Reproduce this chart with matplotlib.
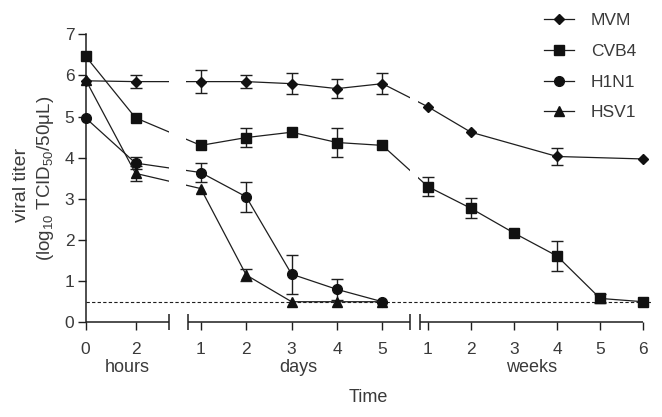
import matplotlib
matplotlib.use("Agg")
import matplotlib.pyplot as plt
import numpy as np

plt.rcParams['font.family'] = ['Liberation Sans', 'DejaVu Sans']
plt.rcParams['mathtext.default'] = 'regular'
TXT = '#3a3a3a'
LC = '#1e1e1e'

# ---------------- data ----------------
series_names = ['MVM', 'CVB4', 'H1N1', 'HSV1']
markers = {'MVM': 'D', 'CVB4': 's', 'H1N1': 'o', 'HSV1': '^'}
msizes = {'MVM': 5.6, 'CVB4': 7.0, 'H1N1': 7.0, 'HSV1': 7.5}

hours_t = [0, 2]
days_t = [1, 2, 3, 4, 5]
weeks_t = [1, 2, 3, 4, 5, 6]

# (unit, time) lists and values/errors per series
MVM_time = [('h', 0), ('h', 2), ('d', 1), ('d', 2), ('d', 3), ('d', 4), ('d', 5),
            ('w', 1), ('w', 2), ('w', 4), ('w', 6)]
MVM_val = [5.87, 5.85, 5.85, 5.85, 5.80, 5.68, 5.80, 5.24, 4.62, 4.03, 3.97]
MVM_err = [0.0, 0.15, 0.28, 0.15, 0.25, 0.23, 0.25, 0.0, 0.0, 0.21, 0.0]

CVB4_time = [('h', 0), ('h', 2), ('d', 1), ('d', 2), ('d', 3), ('d', 4), ('d', 5),
             ('w', 1), ('w', 2), ('w', 3), ('w', 4), ('w', 5), ('w', 6)]
CVB4_val = [6.47, 4.97, 4.30, 4.49, 4.62, 4.37, 4.30, 3.30, 2.77, 2.17, 1.61, 0.58, 0.50]
CVB4_err = [0.0, 0.0, 0.0, 0.24, 0.0, 0.36, 0.0, 0.24, 0.24, 0.0, 0.36, 0.12, 0.0]

H1N1_time = [('h', 0), ('h', 2), ('d', 1), ('d', 2), ('d', 3), ('d', 4), ('d', 5)]
H1N1_val = [4.97, 3.87, 3.64, 3.05, 1.17, 0.80, 0.50]
H1N1_err = [0.0, 0.14, 0.22, 0.36, 0.47, 0.25, 0.0]

HSV1_time = [('h', 0), ('h', 2), ('d', 1), ('d', 2), ('d', 3), ('d', 4), ('d', 5)]
HSV1_val = [5.90, 3.62, 3.25, 1.15, 0.50, 0.50, 0.50]
HSV1_err = [0.0, 0.18, 0.0, 0.15, 0.0, 0.0, 0.0]

detection_limit = 0.5
y_ticks = [0, 1, 2, 3, 4, 5, 6, 7]

# ------------- broken time scale -------------
# segment: (axis position of unit value 0, scale per unit, segment lo, segment hi)
SEG = {'h': (0.0, 25.0, 0.0, 3.32),
       'd': (69.9, 45.4, 0.71, 5.6),
       'w': (299.2, 43.1, 0.81, 6.0)}


def pos(unit, t):
    o, s, _, _ = SEG[unit]
    return o + s * t


data = {
    'MVM': (MVM_time, MVM_val, MVM_err),
    'CVB4': (CVB4_time, CVB4_val, CVB4_err),
    'H1N1': (H1N1_time, H1N1_val, H1N1_err),
    'HSV1': (HSV1_time, HSV1_val, HSV1_err),
}

fig = plt.figure(figsize=(6.62, 4.17), dpi=100)
ax = fig.add_axes([85.5 / 662, 1 - 322.3 / 417, 570 / 662, 288 / 417])
ax.set_xlim(0, 570)
ax.set_ylim(0, 7)

for name in series_names:
    tl, v, e = data[name]
    x = [pos(u, t) for u, t in tl]
    ax.plot(x, v, color=LC, lw=0.9, marker=markers[name], ms=msizes[name],
            mfc='#111111', mec='#111111', label=name, clip_on=False, zorder=4)
    xe = [xi for xi, ei in zip(x, e) if ei > 0]
    ve = [vi for vi, ei in zip(v, e) if ei > 0]
    ee = [ei for ei in e if ei > 0]
    ax.errorbar(xe, ve, yerr=ee, fmt='none', ecolor=LC, elinewidth=1.0,
                capsize=4, capthick=1.0, clip_on=False, zorder=3)

# gaps in the connecting lines at the axis breaks
segs = ['h', 'd', 'w']
for a, b in zip(segs[:-1], segs[1:]):
    x0 = pos(a, SEG[a][3]) + 0.5
    x1 = pos(b, SEG[b][2]) - 1.5
    ax.fill_between([x0, x1], 0.7, 7, color='white', lw=0, zorder=4.5)

# detection limit
ax.plot([0, 565], [detection_limit] * 2, color=LC, lw=0.8, ls=(0, (3, 2)),
        zorder=2, clip_on=False)

# axes styling
for s in ['top', 'right', 'bottom']:
    ax.spines[s].set_visible(False)
ax.spines['left'].set_color(LC)
ax.spines['left'].set_linewidth(1.1)
ax.set_yticks(y_ticks)
ax.tick_params(axis='y', direction='out', length=6, width=1.0, color=LC,
               labelsize=12.5, labelcolor=TXT, pad=2)

# x axis segments
xt, xl = [], []
for u, ticks in zip(segs, [hours_t, days_t, weeks_t]):
    lo, hi = SEG[u][2], SEG[u][3]
    ax.plot([pos(u, lo), pos(u, hi)], [0, 0], color=LC, lw=1.1, clip_on=False,
            zorder=5, solid_capstyle='butt')
    for t in ticks:
        xt.append(pos(u, t))
        xl.append(str(t))
    caps = []
    if u != 'h':
        caps.append(pos(u, lo))
    if u != 'w':
        caps.append(pos(u, hi))
    ax.plot(caps, [0] * len(caps), ls='none', marker='|', ms=12, mew=1.1,
            color=LC, clip_on=False, zorder=5)
ax.set_xticks(xt, xl)
ax.tick_params(axis='x', direction='out', length=6, width=1.0, color=LC,
               labelsize=12.5, labelcolor=TXT, pad=8)

group_labels = ['hours', 'days', 'weeks']
for u, g in zip(segs, group_labels):
    xc = (pos(u, SEG[u][2]) + pos(u, SEG[u][3])) / 2
    ax.text(xc, -45 / 288, g, transform=ax.get_xaxis_transform(), ha='center',
            va='center', fontsize=13, color=TXT)

fig.text(368 / 662, 1 - 398 / 417, 'Time', ha='center', va='center',
         fontsize=13, color=TXT)
fig.text(21 / 662, 1 - 185 / 417, 'viral titer', rotation=90, ha='center',
         va='center', fontsize=14, color=TXT)
fig.text(46 / 662, 1 - 178 / 417, '(log$_{10}$ TCID$_{50}$/50μL)', rotation=90,
         ha='center', va='center', fontsize=13.5, color=TXT)

leg = ax.legend(loc='upper left', bbox_to_anchor=(544 / 662, 1 - 13 / 417),
                bbox_transform=fig.transFigure, frameon=False, fontsize=12.5,
                handlelength=1.7, handletextpad=1.0, labelspacing=0.9,
                borderaxespad=0, borderpad=0)
for t in leg.get_texts():
    t.set_color(TXT)

fig.savefig('out.png', dpi=100)
